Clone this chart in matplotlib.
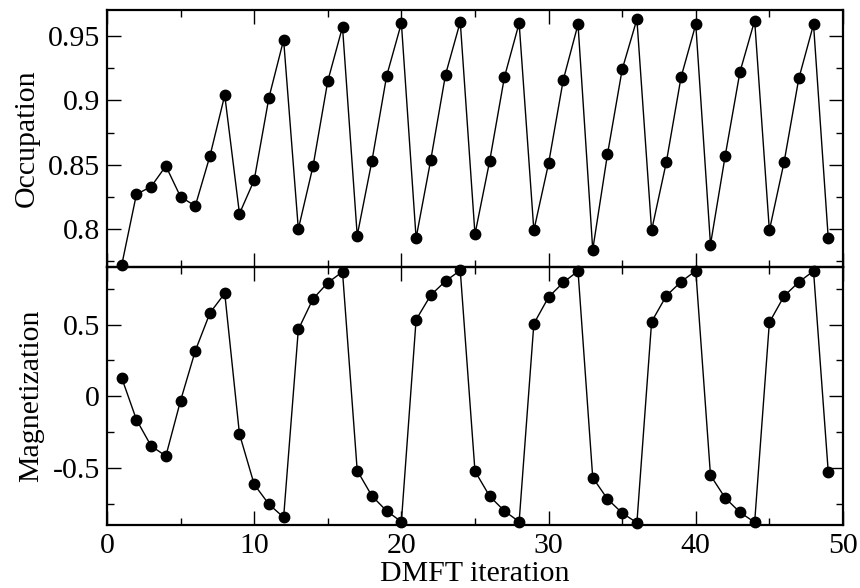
import numpy as np
import matplotlib
matplotlib.use("Agg")
import matplotlib.pyplot as plt
from matplotlib.ticker import MultipleLocator

# DMFT self-consistency history
iteration = np.arange(1, 50)

occupation = [
    0.772, 0.827, 0.833, 0.849, 0.825, 0.818, 0.857, 0.904, 0.812, 0.838,
    0.902, 0.947, 0.800, 0.849, 0.915, 0.957, 0.795, 0.853, 0.919, 0.960,
    0.793, 0.854, 0.920, 0.961, 0.796, 0.853, 0.918, 0.960, 0.799, 0.851,
    0.916, 0.959, 0.784, 0.858, 0.924, 0.963, 0.799, 0.852, 0.918, 0.959,
    0.788, 0.857, 0.922, 0.962, 0.799, 0.852, 0.917, 0.959, 0.793,
]

magnetization = [
    0.128, -0.164, -0.348, -0.418, -0.031, 0.317, 0.582, 0.718, -0.264, -0.616,
    -0.755, -0.846, 0.466, 0.680, 0.792, 0.869, -0.520, -0.697, -0.802, -0.877,
    0.534, 0.706, 0.804, 0.878, -0.524, -0.699, -0.802, -0.877, 0.506, 0.692,
    0.794, 0.874, -0.569, -0.718, -0.816, -0.884, 0.520, 0.701, 0.799, 0.876,
    -0.553, -0.711, -0.811, -0.881, 0.515, 0.699, 0.797, 0.874, -0.529,
]

plt.rcParams['font.family'] = ['Liberation Serif', 'DejaVu Serif']
plt.rcParams['font.size'] = 21.5

fig = plt.figure(figsize=(8.6, 5.88), dpi=100)
ax1 = fig.add_axes([0.1244, 0.5454, 0.8558, 0.4376])
ax2 = fig.add_axes([0.1244, 0.1071, 0.8558, 0.4383])
# top panel above the bottom one so its first marker is not hidden
ax1.set_zorder(2)
ax1.patch.set_visible(False)


def style(ax):
    for s in ax.spines.values():
        s.set_linewidth(1.6)
    ax.tick_params(which='both', direction='in', top=True, right=True,
                   width=1.0, labelsize=21.5)
    ax.tick_params(which='major', length=10)
    ax.tick_params(which='minor', length=5)
    ax.tick_params(axis='y', pad=5)
    ax.tick_params(axis='x', pad=6)
    ax.xaxis.set_major_locator(MultipleLocator(10))
    ax.xaxis.set_minor_locator(MultipleLocator(5))
    ax.set_xlim(0, 50)


ax1.plot(iteration, occupation, '-o', color='black', lw=1.0,
         markersize=7.5, clip_on=False)
style(ax1)
ax1.set_ylim(0.7703, 0.9702)
ax1.set_yticks([0.8, 0.85, 0.9, 0.95])
ax1.set_yticklabels(['0.8', '0.85', '0.9', '0.95'])
ax1.yaxis.set_minor_locator(MultipleLocator(0.025))
ax1.tick_params(labelbottom=False)
ax1.set_ylabel('Occupation', labelpad=6)

ax2.plot(iteration, magnetization, '-o', color='black', lw=1.0,
         markersize=7.5, clip_on=False)
style(ax2)
ax2.set_ylim(-0.9, 0.9)
ax2.set_yticks([-0.5, 0, 0.5])
ax2.set_yticklabels(['-0.5', '0', '0.5'])
ax2.yaxis.set_minor_locator(MultipleLocator(0.25))
ax2.set_ylabel('Magnetization', labelpad=6)
ax2.set_xlabel('DMFT iteration', labelpad=1)

fig.savefig('out.png', dpi=100)
